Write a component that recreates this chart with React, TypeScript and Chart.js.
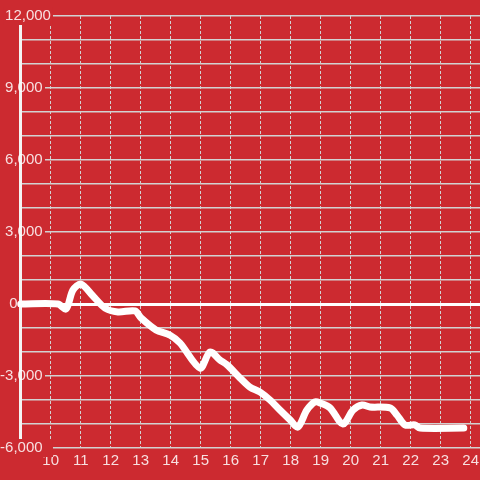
import React, { useEffect, useRef } from 'react';
import { Chart, registerables } from 'chart.js';

Chart.register(...registerables);

// ---- data ----
const hours = [9.0, 10.24, 10.51, 10.74, 11.01, 11.41, 11.81, 12.24, 12.81, 13.01, 13.51, 13.98, 14.31, 14.98, 15.31, 15.64, 15.88, 16.31, 16.64, 16.98, 17.31, 17.64, 17.98, 18.24, 18.54, 18.81, 18.98, 19.31, 19.74, 20.08, 20.38, 20.64, 21.31, 21.54, 21.81, 22.14, 22.31, 23.77];
const pnl = [0, 0, -210, 580, 830, 330, -170, -330, -290, -580, -1080, -1300, -1625, -2670, -2000, -2330, -2540, -3080, -3460, -3670, -4000, -4420, -4830, -5125, -4420, -4080, -4125, -4330, -5000, -4420, -4210, -4290, -4330, -4625, -5040, -5040, -5170, -5170];
const xTicks = [10, 11, 12, 13, 14, 15, 16, 17, 18, 19, 20, 21, 22, 23, 24];
const yTickValues = [-6000, -3000, 0, 3000, 6000, 9000, 12000];
const yTickLabels = ['-6,000', '-3,000', '0', '3,000', '6,000', '9,000', '12,000'];

// ---- style ----
const BG = '#cc2a30';
const GRID = '#d2d2d2';
const TXT = 'rgba(255,255,255,0.85)';
const WHITE = '#ffffff';
const FONT = { family: '"Liberation Sans", Arial, sans-serif', size: 15 };
const Y_MIN = -6000;
const Y_MAX = 12000;

function yLabel(v: number): string {
  const i = yTickValues.indexOf(v);
  if (i < 0) return '';
  const label = yTickLabels[i];
  // shift labels so they line up as in the reference
  const pad = v === Y_MAX ? 0 : v === 0 ? 8 : 2;
  return label + ' '.repeat(pad);
}

export default function App() {
  const ref = useRef<HTMLCanvasElement | null>(null);

  useEffect(() => {
    if (!ref.current) return;
    const chart = new Chart(ref.current, {
      type: 'line',
      data: {
        datasets: [
          {
            data: hours.map((h, i) => ({ x: h, y: pnl[i] })),
            xAxisID: 'x',
            yAxisID: 'y',
            borderColor: WHITE,
            borderWidth: 7,
            pointRadius: 0,
            tension: 0.3,
            borderCapStyle: 'round',
            borderJoinStyle: 'round',
            fill: false,
            clip: false as any,
          },
        ],
      },
      options: {
        responsive: false,
        maintainAspectRatio: false,
        animation: false,
        events: [],
        layout: { padding: { top: 16, left: 0, right: 0, bottom: 0 } },
        plugins: { legend: { display: false }, tooltip: { enabled: false } },
        scales: {
          x: {
            type: 'linear',
            position: 'bottom',
            min: 9.81,
            max: 24.31,
            afterBuildTicks: (s: any) => {
              s.ticks = xTicks.map((v) => ({ value: v }));
            },
            afterFit: (s: any) => {
              s.height = 32;
              s.paddingLeft = 0;
              s.paddingRight = 0;
            },
            grid: { color: GRID, lineWidth: 1, drawTicks: false, z: -1 },
            border: { display: false, dash: [3, 2] },
            ticks: {
              color: TXT,
              font: FONT,
              padding: 4,
              maxRotation: 0,
              autoSkip: false,
              callback: (v: any) => String(v),
            },
          },
          yLine: {
            axis: 'y',
            type: 'linear',
            position: 'left',
            weight: 1,
            min: Y_MIN,
            max: Y_MAX,
            afterFit: (s: any) => {
              s.width = 20;
              s.paddingTop = 0;
              s.paddingBottom = 0;
            },
            grid: { display: false, drawTicks: false },
            ticks: { display: false },
            border: { display: true, color: '#f4f4f4', width: 3, z: -0.5 },
          },
          y: {
            axis: 'y',
            type: 'linear',
            position: 'left',
            weight: 0,
            min: Y_MIN,
            max: Y_MAX,
            afterFit: (s: any) => {
              s.width = 25;
              s.paddingTop = 0;
              s.paddingBottom = 0;
            },
            grid: {
              z: -1,
              drawTicks: true,
              tickLength: 24,
              color: (ctx: any) => (ctx.tick && ctx.tick.value === 0 ? WHITE : GRID),
              lineWidth: (ctx: any) => (ctx.tick && ctx.tick.value === 0 ? 3 : 1.5),
              tickColor: (ctx: any) => {
                const v = ctx.tick ? ctx.tick.value : null;
                if (v === 0) return WHITE;
                if (yTickValues.indexOf(v) >= 0) return 'rgba(0,0,0,0)';
                return GRID;
              },
              tickWidth: (ctx: any) => (ctx.tick && ctx.tick.value === 0 ? 3 : 1.5),
            },
            border: { display: false },
            ticks: {
              stepSize: 1000,
              autoSkip: false,
              mirror: true,
              crossAlign: 'far',
              padding: -44.9,
              color: TXT,
              font: FONT,
              callback: (v: any) => yLabel(Number(v)),
              showLabelBackdrop: (ctx: any) =>
                !!ctx.tick && (ctx.tick.value === Y_MAX || ctx.tick.value === Y_MIN),
              backdropColor: BG,
              backdropPadding: { left: 2, right: 2, top: 0, bottom: 0 },
            } as any,
          },
        } as any,
      },
    });
    return () => chart.destroy();
  }, []);

  return (
    <div style={{ position: 'fixed', left: 0, top: 0, width: 480, height: 480, background: BG }}>
      <canvas ref={ref} width={480} height={480} style={{ display: 'block' }} />
    </div>
  );
}
